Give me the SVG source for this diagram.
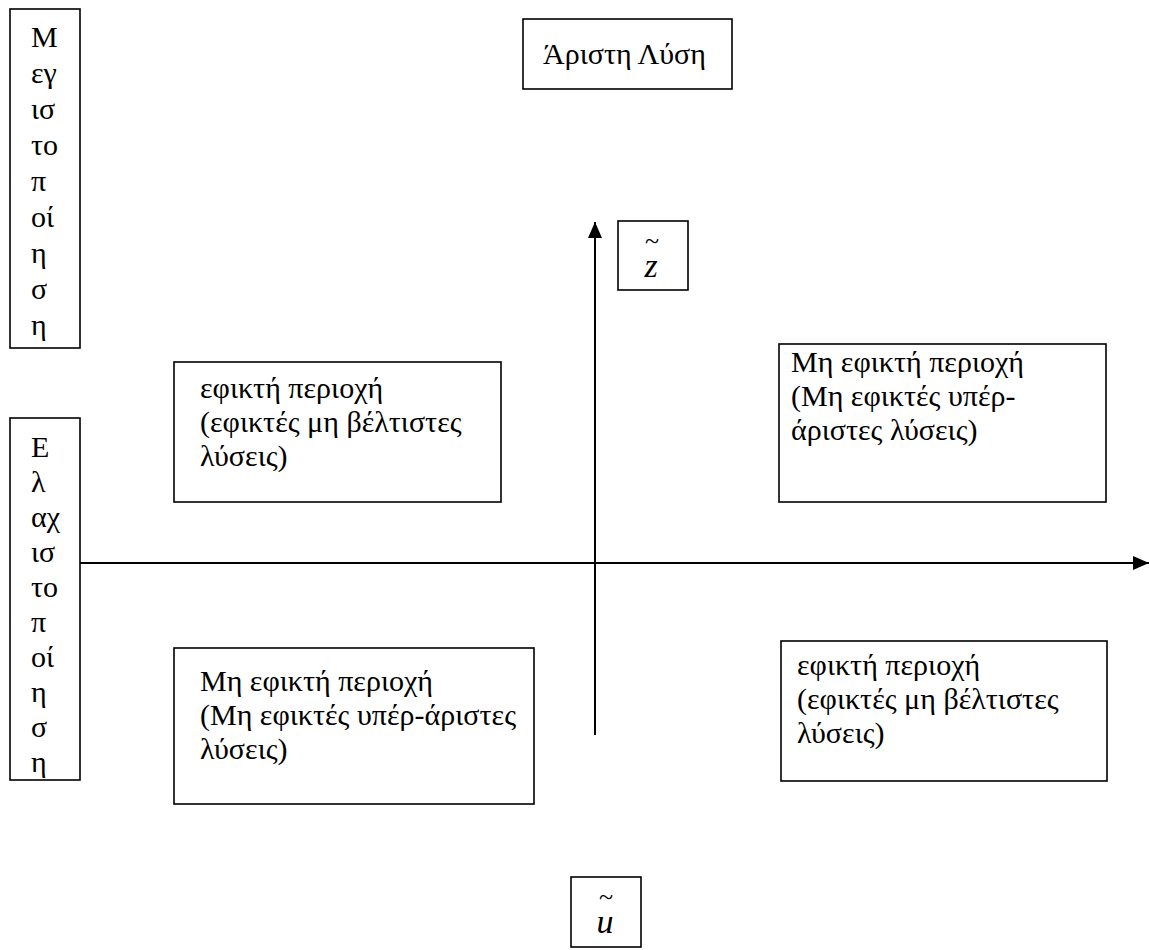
<svg xmlns="http://www.w3.org/2000/svg" width="1149" height="950" viewBox="0 0 1149 950">
<style>
.box{fill:#fff;stroke:#000;stroke-width:1.6}
.t{font-family:"Liberation Serif","DejaVu Serif","Times New Roman",serif;font-size:30px;fill:#000}
.m{font-family:"Liberation Serif","DejaVu Serif","Times New Roman",serif;font-style:italic;font-size:34px;fill:#000;text-anchor:middle}
.tl{font-size:26px;font-style:normal}
.ax{stroke:#000;stroke-width:2;fill:none}
</style>
<defs>
<marker id="ah" viewBox="0 0 16 14" refX="16" refY="7" markerWidth="16" markerHeight="14" markerUnits="userSpaceOnUse" orient="auto">
<path d="M0,0 L16,7 L0,14 Z" fill="#000"/>
</marker>
</defs>
<rect width="1149" height="950" fill="#fff"/>
<g id="connectors">
<line class="ax" x1="595" y1="735" x2="595" y2="222" marker-end="url(#ah)"/>
<line class="ax" x1="80" y1="563" x2="1149" y2="563" marker-end="url(#ah)"/>
</g>
<g id="max">
<rect class="box" x="10" y="9" width="70" height="339"/>
<text class="t">
<tspan x="31" y="47">Μ</tspan><tspan x="31" y="83">εγ</tspan><tspan x="31" y="119">ισ</tspan><tspan x="31" y="155">το</tspan><tspan x="31" y="191">π</tspan><tspan x="31" y="227">οί</tspan><tspan x="31" y="263">η</tspan><tspan x="31" y="299">σ</tspan><tspan x="31" y="335">η</tspan>
</text>
</g>
<g id="min">
<rect class="box" x="10" y="418" width="70" height="362"/>
<text class="t">
<tspan x="31" y="457">Ε</tspan><tspan x="31" y="492">λ</tspan><tspan x="31" y="527">αχ</tspan><tspan x="31" y="562">ισ</tspan><tspan x="31" y="597">το</tspan><tspan x="31" y="632">π</tspan><tspan x="31" y="667">οί</tspan><tspan x="31" y="702">η</tspan><tspan x="31" y="737">σ</tspan><tspan x="31" y="772">η</tspan>
</text>
</g>
<g id="best">
<rect class="box" x="523" y="19" width="209" height="70"/>
<text class="t" x="543" y="64">Άριστη Λύση</text>
</g>
<g id="zlabel">
<rect class="box" x="618" y="221" width="70" height="69"/>
<text class="m"><tspan class="tl" x="652" y="249">~</tspan><tspan x="651" y="277">z</tspan></text>
</g>
<g id="ulabel">
<rect class="box" x="571" y="877" width="70" height="70"/>
<text class="m"><tspan class="tl" x="606" y="905">~</tspan><tspan x="605" y="933">u</tspan></text>
</g>
<g id="q-tl">
<rect class="box" x="174" y="362" width="327" height="140"/>
<text class="t"><tspan x="200" y="398">εφικτή περιοχή</tspan><tspan x="200" y="432">(εφικτές μη βέλτιστες</tspan><tspan x="200" y="466">λύσεις)</tspan></text>
</g>
<g id="q-tr">
<rect class="box" x="779" y="344" width="327" height="158"/>
<text class="t"><tspan x="791" y="372">Μη εφικτή περιοχή</tspan><tspan x="791" y="406">(Μη εφικτές υπέρ-</tspan><tspan x="791" y="440">άριστες λύσεις)</tspan></text>
</g>
<g id="q-bl">
<rect class="box" x="174" y="648" width="360" height="156"/>
<text class="t"><tspan x="200" y="691">Μη εφικτή περιοχή</tspan><tspan x="200" y="725">(Μη εφικτές υπέρ-άριστες</tspan><tspan x="200" y="759">λύσεις)</tspan></text>
</g>
<g id="q-br">
<rect class="box" x="781" y="641" width="326" height="140"/>
<text class="t"><tspan x="797" y="675">εφικτή περιοχή</tspan><tspan x="797" y="709">(εφικτές μη βέλτιστες</tspan><tspan x="797" y="743">λύσεις)</tspan></text>
</g>
</svg>
